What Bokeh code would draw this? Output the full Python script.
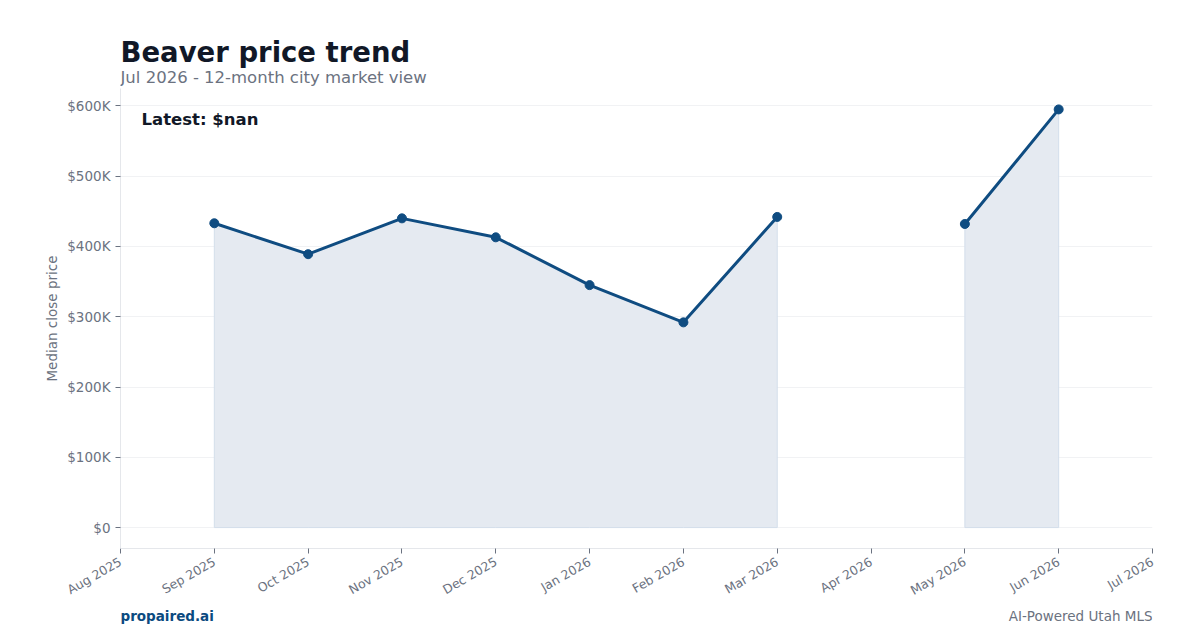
import math
import numpy as np
from bokeh.plotting import figure
from bokeh.layouts import column
from bokeh.models import (Label, FixedTicker, CustomJSTickFormatter, Range1d, ColumnDataSource)
from bokeh.embed import file_html
from bokeh.resources import INLINE

months = ["Aug 2025", "Sep 2025", "Oct 2025", "Nov 2025", "Dec 2025", "Jan 2026",
          "Feb 2026", "Mar 2026", "Apr 2026", "May 2026", "Jun 2026", "Jul 2026"]
median_price = [np.nan, 433000, 389000, 440000, 413000, 345000,
                292000, 442000, np.nan, 432000, 595000, np.nan]
y_ticks = [0, 100000, 200000, 300000, 400000, 500000, 600000]

FONT = "DejaVu Sans"
LINE = "#0f4c81"
GREY = "#6b7280"
DARK = "#111827"
W = 1200
LEFT, RIGHT = 120, 48
HEAD_H = 88
BOTTOM = 59
MAIN_H = 460 + BOTTOM
FOOT_H = 630 - HEAD_H - MAIN_H


def blank(height):
    f = figure(width=W, height=height, output_backend="svg", toolbar_location=None,
               x_range=Range1d(0, 1), y_range=Range1d(0, 1),
               min_border_left=LEFT, min_border_right=RIGHT, min_border_top=0, min_border_bottom=0)
    f.axis.visible = False
    f.grid.grid_line_color = None
    f.outline_line_color = None
    f.border_fill_color = "white"
    return f


# header
head = blank(HEAD_H)
head.add_layout(Label(x=0, y=37, x_units="screen", y_units="screen", text="Beaver price trend",
                      text_baseline="middle", text_font=FONT, text_font_size="27.5px",
                      text_font_style="bold", text_color=DARK))
head.add_layout(Label(x=0, y=11, x_units="screen", y_units="screen",
                      text="Jul 2026 - 12-month city market view", text_baseline="middle",
                      text_font=FONT, text_font_size="16.5px", text_color=GREY))

# main chart
xs = list(range(len(months)))
ymax = np.nanmax(median_price)
pad = 0.05 * ymax

p = figure(width=W, height=MAIN_H, output_backend="svg", toolbar_location=None,
           x_range=Range1d(0, len(months) - 1), y_range=Range1d(-pad, ymax + pad),
           min_border_left=LEFT, min_border_right=RIGHT, min_border_top=0,
           min_border_bottom=BOTTOM)
p.outline_line_color = None
p.background_fill_color = "white"
p.border_fill_color = "white"

runs = []
cur = []
for i, v in enumerate(median_price):
    if np.isnan(v):
        if cur:
            runs.append(cur)
        cur = []
    else:
        cur.append(i)
if cur:
    runs.append(cur)
for r in runs:
    px = [xs[i] for i in r]
    py = [median_price[i] for i in r]
    p.patch(px + px[::-1], py + [0] * len(py), fill_color="#e5eaf1", fill_alpha=1.0,
            line_color="#d3deeb", line_width=1)

src = ColumnDataSource(dict(x=xs, y=median_price))
p.line("x", "y", source=src, line_color=LINE, line_width=3)
p.scatter("x", "y", source=src, size=9, fill_color=LINE, line_color=LINE)

p.xaxis.ticker = FixedTicker(ticks=xs)
p.xaxis.major_label_overrides = {i: m for i, m in enumerate(months)}
p.xaxis.major_label_orientation = math.pi / 6
p.yaxis.ticker = FixedTicker(ticks=y_ticks)
p.yaxis.formatter = CustomJSTickFormatter(
    code="return tick == 0 ? '$0' : '$' + (tick/1000).toFixed(0) + 'K';")
p.yaxis.axis_label = "Median close price"
for ax in (p.xaxis, p.yaxis):
    ax.axis_line_color = "#e5e7eb"
    ax.major_tick_line_color = GREY
    ax.major_tick_out = 5
    ax.major_tick_in = 0
    ax.minor_tick_line_color = None
    ax.major_label_text_color = GREY
    ax.major_label_text_font = FONT
    ax.major_label_text_font_size = "13.5px"
    ax.axis_label_text_color = GREY
    ax.axis_label_text_font = FONT
    ax.axis_label_text_font_size = "13.5px"
    ax.axis_label_text_font_style = "normal"
p.yaxis.axis_label_standoff = 4
p.xaxis.major_label_text_font_size = "12.5px"
p.xaxis.major_label_standoff = 7
p.xgrid.grid_line_color = None
p.ygrid.grid_line_color = "#f1f2f4"

p.add_layout(Label(x=21, y=429, x_units="screen", y_units="screen", text="Latest: $nan",
                   text_baseline="middle", text_font=FONT, text_font_size="16.5px",
                   text_font_style="bold", text_color=DARK))

# footer
foot = blank(FOOT_H)
fy = FOOT_H - 8
foot.add_layout(Label(x=0, y=fy, x_units="screen", y_units="screen", text="propaired.ai",
                      text_baseline="middle", text_font=FONT, text_font_size="13.5px",
                      text_font_style="bold", text_color="#0b4a80"))
foot.add_layout(Label(x=W - LEFT - RIGHT, y=fy, x_units="screen", y_units="screen",
                      text="AI-Powered Utah MLS", text_align="right", text_baseline="middle",
                      text_font=FONT, text_font_size="13.5px", text_color=GREY))

layout = column(head, p, foot, spacing=0)
open("out.html", "w").write(file_html(layout, INLINE))
